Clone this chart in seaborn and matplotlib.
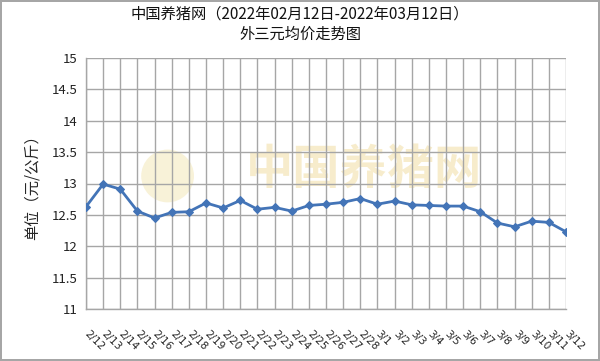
import matplotlib
matplotlib.use("Agg")
import matplotlib.pyplot as plt
import seaborn as sns
import pandas as pd
from matplotlib.patches import Ellipse

dates = ["2/12", "2/13", "2/14", "2/15", "2/16", "2/17", "2/18", "2/19", "2/20", "2/21",
         "2/22", "2/23", "2/24", "2/25", "2/26", "2/27", "2/28", "3/1", "3/2", "3/3",
         "3/4", "3/5", "3/6", "3/7", "3/8", "3/9", "3/10", "3/11", "3/12"]
prices = [12.63, 12.99, 12.91, 12.56, 12.45, 12.54, 12.55, 12.69, 12.61, 12.73,
          12.59, 12.62, 12.56, 12.65, 12.67, 12.70, 12.76, 12.67, 12.72, 12.66,
          12.65, 12.64, 12.64, 12.55, 12.37, 12.31, 12.40, 12.38, 12.23]
yticks = [11, 11.5, 12, 12.5, 13, 13.5, 14, 14.5, 15]
ytick_labels = ["11", "11.5", "12", "12.5", "13", "13.5", "14", "14.5", "15"]
title_text = "中国养猪网（2022年02月12日-2022年03月12日）\n外三元均价走势图"
ylabel_text = "单位（元/公斤）"

sns.set_theme(style="white")
plt.rcParams['font.family'] = ['Noto Sans CJK SC', 'DejaVu Sans']

df = pd.DataFrame({"idx": range(len(dates)), "price": prices})

fig = plt.figure(figsize=(6.0, 3.61), dpi=100)
fig.patch.set_facecolor("white")
fig.patch.set_edgecolor("#A6A6A6")
fig.patch.set_linewidth(1.5)
ax = fig.add_axes([86/600, 1-309/361, 480/600, (309-58)/361])

# watermark
ax.text(0.58, 0.555, "中国养猪网", transform=ax.transAxes, fontsize=34, fontweight="bold",
        color="#F5E8C0", alpha=0.8, ha="center", va="center", zorder=0.2)
ax.add_patch(Ellipse((0.17, 0.53), 0.11, 0.11 * 480 / 251, transform=ax.transAxes,
                     facecolor="#F7EFCF", edgecolor="none", alpha=0.8, zorder=0.2))

sns.lineplot(data=df, x="idx", y="price", ax=ax, color="#4374B7", linewidth=2,
             marker="D", markersize=4.5, markeredgecolor="#4374B7", zorder=3)

ax.set_xlim(0, len(dates) - 1)
ax.set_ylim(11, 15)
ax.set_yticks(yticks)
ax.set_yticklabels(ytick_labels, fontsize=9.5, color="#222222")
ax.set_xticks(range(len(dates)))
ax.set_xticklabels(dates, rotation=-45, ha="left", va="center", rotation_mode="anchor",
                   fontsize=7.5, color="#222222", family=['DejaVu Sans'])
ax.tick_params(axis="x", pad=17, length=0)
ax.tick_params(axis="y", pad=6, length=0)
ax.set_axisbelow(True)
ax.grid(True, color="#A6A6A6", linewidth=1)
for side in ["top", "right"]:
    ax.spines[side].set_visible(False)
for side in ["left", "bottom"]:
    ax.spines[side].set_color("#A6A6A6")
    ax.spines[side].set_linewidth(1)
ax.set_xlabel("")
ax.set_ylabel(ylabel_text, fontsize=11, labelpad=8)

fig.text(0.5, 0.985, title_text, ha="center", va="top", fontsize=11, linespacing=1.25, color="#111111")

fig.savefig("out.png", dpi=100)
